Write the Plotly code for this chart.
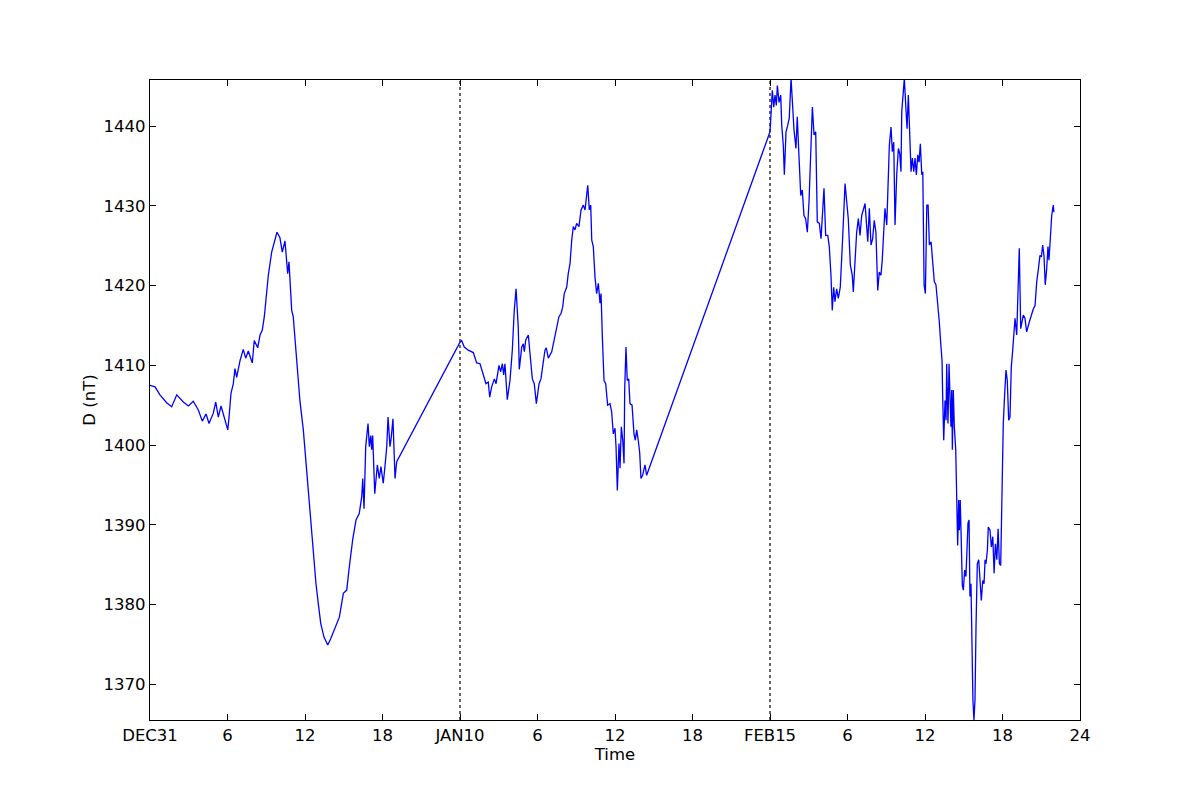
import plotly.graph_objects as go

# Day 1 (DEC31), hours of day
day1_hours = [0.00, 0.39, 0.77, 1.29, 1.68, 2.07, 2.58, 2.97, 3.35, 3.74, 4.05, 4.34, 4.57, 4.90, 5.09,
              5.29, 5.50, 5.75, 6.02, 6.12, 6.27, 6.45, 6.58, 6.71, 6.97, 7.22, 7.41, 7.61, 7.92, 8.07,
              8.34, 8.52, 8.69, 8.85, 8.96, 9.16, 9.42, 9.68, 9.83, 10.06, 10.24, 10.45, 10.66, 10.76,
              10.97, 11.09, 11.28, 11.43, 11.61, 11.87, 12.08, 12.26, 12.44, 12.64, 12.85, 13.03, 13.22,
              13.47, 13.76, 13.99, 14.32, 14.66, 14.97, 15.23, 15.43, 15.69, 15.95, 16.20, 16.39, 16.47,
              16.57, 16.70, 16.88, 16.98, 17.09, 17.16, 17.24, 17.40, 17.60, 17.75, 17.88, 18.06, 18.19,
              18.33, 18.43, 18.58, 18.68, 18.81, 18.97, 19.10]
day1_values = [1407.5, 1407.3, 1406.3, 1405.3, 1404.8, 1406.3, 1405.4, 1404.9, 1405.5, 1404.4, 1403.0, 1403.9,
               1402.7, 1404.0, 1405.4, 1403.5, 1404.9, 1403.3, 1401.9, 1403.5, 1406.5, 1407.7, 1409.6, 1408.5,
               1410.6, 1412.0, 1410.9, 1411.8, 1410.3, 1413.1, 1412.2, 1413.8, 1414.4, 1416.1, 1417.8, 1421.3,
               1424.2, 1426.0, 1426.7, 1426.0, 1424.2, 1425.6, 1421.5, 1423.0, 1416.9, 1416.1, 1411.9, 1409.8,
               1405.5, 1401.9, 1397.7, 1394.3, 1389.7, 1386.8, 1382.6, 1380.1, 1377.6, 1375.9, 1374.9, 1375.7,
               1377.0, 1378.4, 1381.4, 1381.8, 1384.7, 1388.1, 1390.6, 1391.4, 1393.5, 1395.8, 1392.0, 1399.8,
               1402.7, 1399.8, 1401.2, 1399.4, 1401.2, 1393.9, 1397.5, 1395.8, 1397.3, 1395.2, 1397.3, 1399.8,
               1403.5, 1399.8, 1401.0, 1403.3, 1395.8, 1397.9]

# Day 2 (JAN10), hours of day
day2_hours = [0.00, 0.13, 0.33, 0.64, 1.03, 1.29, 1.55, 1.81, 2.01, 2.19, 2.30, 2.45, 2.66, 2.79, 3.02, 3.15,
              3.28, 3.38, 3.48, 3.66, 3.87, 4.05, 4.20, 4.34, 4.51, 4.59, 4.78, 4.90, 4.98, 5.09, 5.29, 5.44,
              5.60, 5.75, 5.91, 6.12, 6.27, 6.43, 6.58, 6.68, 6.84, 7.10, 7.36, 7.53, 7.66, 7.82, 7.95, 8.07,
              8.26, 8.38, 8.52, 8.65, 8.77, 8.90, 9.03, 9.21, 9.37, 9.55, 9.68, 9.89, 10.01, 10.12, 10.20,
              10.32, 10.45, 10.58, 10.71, 10.84, 10.92, 11.02, 11.15, 11.28, 11.43, 11.61, 11.74, 11.87,
              12.00, 12.08, 12.18, 12.31, 12.39, 12.49, 12.60, 12.70, 12.75, 12.85, 12.95, 13.06, 13.16,
              13.32, 13.47, 13.57, 13.68, 13.80, 13.91, 14.01, 14.14, 14.32, 14.45]
day2_values = [1412.9, 1413.1, 1412.3, 1411.9, 1411.6, 1410.3, 1410.2, 1408.8, 1407.7, 1407.9, 1406.0, 1407.3,
               1408.3, 1407.7, 1410.0, 1409.2, 1410.2, 1408.8, 1410.2, 1405.7, 1408.1, 1411.9, 1416.9, 1419.6,
               1414.8, 1409.5, 1412.3, 1412.7, 1411.7, 1413.2, 1413.8, 1411.1, 1408.3, 1407.7, 1405.2, 1407.7,
               1408.3, 1410.2, 1411.9, 1412.2, 1410.9, 1411.7, 1413.6, 1414.8, 1416.1, 1416.5, 1417.3, 1419.0,
               1419.8, 1421.5, 1422.8, 1425.7, 1427.4, 1427.0, 1427.8, 1427.4, 1429.5, 1430.1, 1429.5, 1432.6,
               1429.5, 1430.1, 1425.7, 1424.9, 1421.1, 1419.0, 1420.3, 1417.8, 1419.0, 1413.6, 1408.1, 1407.7,
               1405.0, 1405.2, 1404.2, 1401.4, 1402.1, 1399.8, 1394.3, 1400.2, 1397.1, 1402.3, 1400.6, 1397.7,
               1406.9, 1412.3, 1408.1, 1408.3, 1405.2, 1405.0, 1401.4, 1400.6, 1401.9, 1400.6, 1399.1, 1395.8,
               1396.2, 1397.5, 1396.2]

# Day 3 (FEB15), hours of day
day3_hours = [0.00, 0.08, 0.18, 0.29, 0.39, 0.49, 0.57, 0.70, 0.83, 0.91, 1.03, 1.11, 1.24, 1.37, 1.49, 1.63,
              1.73, 1.86, 2.01, 2.11, 2.25, 2.38, 2.50, 2.63, 2.76, 2.89, 3.02, 3.15, 3.28, 3.41, 3.54, 3.66,
              3.82, 3.95, 4.05, 4.18, 4.31, 4.47, 4.59, 4.72, 4.82, 4.93, 5.03, 5.16, 5.29, 5.44, 5.60, 5.71,
              5.81, 5.94, 6.06, 6.22, 6.37, 6.45, 6.58, 6.71, 6.84, 6.97, 7.10, 7.23, 7.36, 7.46, 7.57, 7.69,
              7.82, 7.95, 8.07, 8.20, 8.34, 8.46, 8.59, 8.69, 8.80, 8.90, 9.04, 9.11, 9.24, 9.37, 9.47, 9.58,
              9.68, 9.81, 9.94, 10.04, 10.14, 10.20, 10.30, 10.40, 10.51, 10.61, 10.71, 10.82, 10.92, 11.02,
              11.13, 11.23, 11.33, 11.44, 11.54, 11.64, 11.75, 11.83, 11.93, 12.03, 12.14, 12.24, 12.34,
              12.47, 12.57, 12.72, 12.85, 12.95, 13.11, 13.22, 13.32, 13.37, 13.45, 13.55, 13.63, 13.68,
              13.78, 13.86, 13.94, 14.01, 14.07, 14.12, 14.19, 14.27, 14.38, 14.46, 14.53, 14.61, 14.66,
              14.73, 14.81, 14.89, 14.97, 15.07, 15.17, 15.25, 15.33, 15.41, 15.48, 15.56, 15.61, 15.71,
              15.79, 15.87, 15.95, 16.05, 16.16, 16.26, 16.36, 16.47, 16.57, 16.65, 16.72, 16.83, 16.90,
              17.03, 17.14, 17.25, 17.35, 17.45, 17.56, 17.66, 17.76, 17.86, 17.96, 18.06, 18.17, 18.27,
              18.37, 18.48, 18.58, 18.68, 18.79, 18.89, 18.97, 19.10, 19.22, 19.30, 19.41, 19.61, 19.74,
              19.87, 20.07, 20.26, 20.39, 20.52, 20.65, 20.78, 20.90, 21.01, 21.11, 21.21, 21.31, 21.42,
              21.52, 21.60, 21.70, 21.81, 21.93, 21.98]
day3_values = [1439.3, 1442.2, 1444.5, 1442.4, 1443.9, 1442.6, 1445.1, 1443.0, 1443.9, 1440.1, 1437.6, 1433.9,
               1439.3, 1440.1, 1441.0, 1446.0, 1442.6, 1439.5, 1437.2, 1441.2, 1436.0, 1431.3, 1432.0, 1428.8,
               1428.4, 1426.7, 1430.5, 1438.0, 1442.4, 1438.9, 1439.3, 1428.0, 1427.8, 1425.9, 1428.8, 1432.2,
               1426.3, 1426.3, 1424.9, 1421.3, 1416.9, 1419.8, 1418.0, 1419.6, 1418.4, 1419.8, 1425.1, 1430.5,
               1432.8, 1430.5, 1428.4, 1422.6, 1421.3, 1419.2, 1423.4, 1426.7, 1428.4, 1426.3, 1428.8, 1429.7,
               1430.3, 1428.0, 1425.5, 1429.7, 1425.1, 1425.9, 1428.2, 1426.7, 1419.4, 1421.7, 1421.3, 1423.2,
               1426.3, 1429.7, 1427.6, 1430.5, 1437.6, 1439.9, 1436.8, 1438.0, 1427.6, 1433.9, 1437.2, 1436.6,
               1434.3, 1441.8, 1444.7, 1446.0, 1442.6, 1439.7, 1443.9, 1438.0, 1434.3, 1436.0, 1434.3, 1436.0,
               1433.9, 1436.4, 1435.5, 1437.8, 1433.9, 1434.3, 1420.1, 1419.0, 1430.1, 1430.1, 1425.1, 1425.5,
               1423.6, 1420.5, 1420.1, 1418.6, 1415.4, 1412.7, 1410.6, 1406.0, 1400.6, 1405.6, 1403.1, 1410.2,
               1402.7, 1410.2, 1404.8, 1402.3, 1406.9, 1399.4, 1406.9, 1402.3, 1399.4, 1394.7, 1387.4, 1393.1,
               1389.3, 1393.1, 1387.2, 1382.4, 1381.8, 1384.3, 1383.5, 1387.2, 1390.2, 1390.6, 1381.0, 1382.6,
               1375.1, 1368.0, 1365.5, 1368.0, 1377.2, 1385.1, 1385.6, 1383.5, 1380.5, 1383.0, 1382.6, 1385.6,
               1385.1, 1386.8, 1389.7, 1389.3, 1387.2, 1388.5, 1383.9, 1387.6, 1385.6, 1389.5, 1385.1, 1384.9,
               1393.5, 1402.7, 1406.5, 1409.4, 1408.1, 1403.1, 1403.5, 1409.8, 1411.9, 1413.6, 1415.9, 1413.8,
               1420.5, 1424.7, 1414.6, 1416.3, 1415.9, 1414.2, 1415.4, 1416.5, 1417.1, 1417.5, 1420.5, 1422.1,
               1423.8, 1423.6, 1425.1, 1423.8, 1420.1, 1422.1, 1424.9, 1423.2, 1425.5, 1428.8, 1430.1, 1429.2]

day_offsets = [0, 24, 48]
tick_vals = [0, 6, 12, 18, 24, 30, 36, 42, 48, 54, 60, 66, 72]
tick_text = ["DEC31", "6", "12", "18", "JAN10", "6", "12", "18", "FEB15", "6", "12", "18", "24"]
y_ticks = [1370, 1380, 1390, 1400, 1410, 1420, 1430, 1440]

x_all = []
y_all = []
for off, hrs, vals in zip(day_offsets, [day1_hours, day2_hours, day3_hours],
                          [day1_values, day2_values, day3_values]):
    x_all += [h + off for h in hrs]
    y_all += vals

fig = go.Figure()
fig.add_trace(go.Scatter(x=x_all, y=y_all, mode="lines",
                         line=dict(color="#0000ff", width=1.3), showlegend=False))

for b in day_offsets[1:]:
    fig.add_shape(type="line", xref="x", yref="paper", x0=b, x1=b, y0=0, y1=1,
                  line=dict(color="black", width=1.2, dash="dot"), layer="below")

font = dict(family="DejaVu Sans", size=16.5, color="black")
fig.update_layout(
    width=1200, height=800,
    margin=dict(l=150, r=120, t=80, b=80),
    paper_bgcolor="white", plot_bgcolor="white",
    font=font,
    xaxis=dict(range=[0, 72], tickmode="array", tickvals=tick_vals, ticktext=tick_text,
               ticks="inside", ticklen=6, tickwidth=1, tickcolor="black",
               showline=True, linecolor="black", linewidth=1.2, mirror="allticks",
               showgrid=False, zeroline=False, title=dict(text="Time", font=font, standoff=4),
               tickfont=font),
    yaxis=dict(range=[1365.5, 1445.8], tickmode="array", tickvals=y_ticks,
               ticks="inside", ticklen=6, tickwidth=1, tickcolor="black",
               showline=True, linecolor="black", linewidth=1.2, mirror="allticks",
               showgrid=False, zeroline=False, title=dict(text="D (nT)", font=font, standoff=3),
               tickfont=font),
)

fig.write_html("out.html", config={"displayModeBar": False},
               post_script="document.body.style.margin='0';document.body.style.overflow='hidden';")
